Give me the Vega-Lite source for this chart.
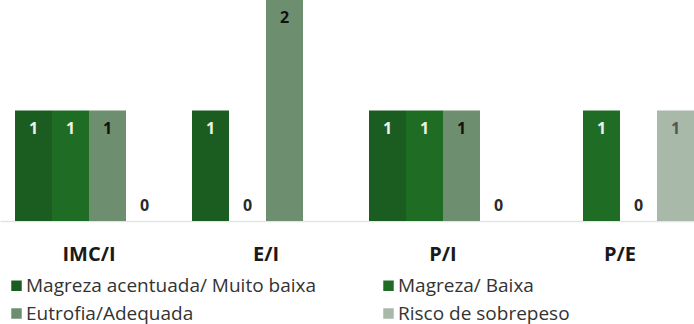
{
  "$schema": "https://vega.github.io/schema/vega-lite/v6.json",
  "width": 694,
  "height": 221,
  "autosize": {"type": "none"},
  "padding": {"left": 0, "top": 0, "right": 0, "bottom": 103},
  "background": "white",
  "config": {"view": {"stroke": null}},
  "data": {
    "values": [
      {"indicador": "IMC/I", "categoria": "Magreza acentuada/ Muito baixa", "valor": 1},
      {"indicador": "IMC/I", "categoria": "Magreza/ Baixa", "valor": 1},
      {"indicador": "IMC/I", "categoria": "Eutrofia/Adequada", "valor": 1},
      {"indicador": "IMC/I", "categoria": "Risco de sobrepeso", "valor": 0},
      {"indicador": "E/I", "categoria": "Magreza acentuada/ Muito baixa", "valor": 1},
      {"indicador": "E/I", "categoria": "Magreza/ Baixa", "valor": 0},
      {"indicador": "E/I", "categoria": "Eutrofia/Adequada", "valor": 2},
      {"indicador": "P/I", "categoria": "Magreza acentuada/ Muito baixa", "valor": 1},
      {"indicador": "P/I", "categoria": "Magreza/ Baixa", "valor": 1},
      {"indicador": "P/I", "categoria": "Eutrofia/Adequada", "valor": 1},
      {"indicador": "P/I", "categoria": "Risco de sobrepeso", "valor": 0},
      {"indicador": "P/E", "categoria": "Magreza/ Baixa", "valor": 1},
      {"indicador": "P/E", "categoria": "Eutrofia/Adequada", "valor": 0},
      {"indicador": "P/E", "categoria": "Risco de sobrepeso", "valor": 1}
    ]
  },
  "encoding": {
    "x": {
      "field": "indicador",
      "type": "nominal",
      "sort": ["IMC/I", "E/I", "P/I", "P/E"],
      "scale": {"paddingInner": 0.1638, "paddingOuter": 0.0424, "align": 1},
      "axis": {
        "title": null,
        "labelAngle": 0,
        "ticks": false,
        "domainColor": "#e4e4e4",
        "domainWidth": 1.5,
        "labelFont": "Open Sans",
        "labelFontSize": 20,
        "labelFontWeight": "bold",
        "labelColor": "#1a1a1a",
        "labelPadding": 23
      }
    },
    "xOffset": {
      "field": "categoria",
      "type": "nominal",
      "sort": ["Magreza acentuada/ Muito baixa", "Magreza/ Baixa", "Eutrofia/Adequada", "Risco de sobrepeso"],
      "scale": {"paddingInner": 0, "paddingOuter": 0}
    },
    "y": {
      "field": "valor",
      "type": "quantitative",
      "scale": {"domain": [0, 2], "nice": false},
      "axis": null
    }
  },
  "layer": [
    {
      "mark": {"type": "bar"},
      "encoding": {
        "color": {
          "field": "categoria",
          "type": "nominal",
          "scale": {
            "domain": ["Magreza acentuada/ Muito baixa", "Magreza/ Baixa", "Eutrofia/Adequada", "Risco de sobrepeso"],
            "range": ["#1b5c20", "#1f6c25", "#6e8e70", "#a8b8a9"]
          },
          "legend": {
            "title": null,
            "orient": "none",
            "legendX": 7,
            "legendY": 276,
            "direction": "horizontal",
            "columns": 2,
            "columnPadding": 62,
            "rowPadding": 8,
            "padding": 0,
            "symbolType": "square",
            "symbolSize": 110,
            "symbolStrokeWidth": 0,
            "labelFont": "Open Sans",
            "labelFontSize": 19,
            "labelColor": "#333333",
            "labelOffset": 0,
            "labelLimit": 400
          }
        }
      }
    },
    {
      "transform": [{"filter": "datum.valor > 0"}],
      "mark": {"type": "text", "baseline": "top", "dy": 10, "font": "Open Sans", "fontSize": 16, "fontWeight": "bold"},
      "encoding": {
        "text": {"field": "valor", "type": "quantitative"},
        "color": {
          "condition": [
            {"test": "datum.categoria === 'Eutrofia/Adequada'", "value": "#111111"},
            {"test": "datum.categoria === 'Risco de sobrepeso'", "value": "#555555"}
          ],
          "value": "#eef3e8"
        }
      }
    },
    {
      "transform": [{"filter": "datum.valor == 0"}],
      "mark": {"type": "text", "baseline": "alphabetic", "dy": -10, "font": "Open Sans", "fontSize": 16, "fontWeight": "bold", "color": "#2a2a2a"},
      "encoding": {
        "text": {"field": "valor", "type": "quantitative"}
      }
    },
    {
      "data": {"values": [{"rotulo": "CHCTI-5"}]},
      "mark": {"type": "text", "align": "left", "baseline": "alphabetic", "dx": -3, "font": "Open Sans", "fontSize": 20, "color": "#333333"},
      "encoding": {
        "x": {"datum": "IMC/I", "bandPosition": 0},
        "xOffset": null,
        "y": {"datum": 1.91},
        "text": {"field": "rotulo", "type": "nominal"}
      }
    }
  ]
}
